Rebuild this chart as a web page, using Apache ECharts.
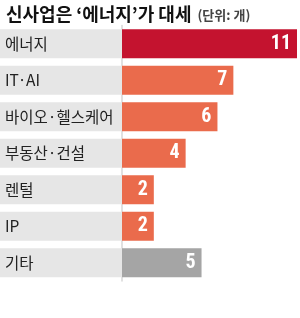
<!DOCTYPE html>
<html><head><meta charset="utf-8">
<script src="https://cdn.jsdelivr.net/npm/echarts@6/dist/echarts.min.js"></script>
<style>html,body{margin:0;padding:0;background:#fff}#c{width:300px;height:318px}</style>
</head><body><div id="c"></div>
<script>
const categories = ['에너지','IT·AI','바이오·헬스케어','부동산·건설','렌털','IP','기타'];
const values = [11, 7, 6, 4, 2, 2, 5];
const barColors = ['#c4132f','#ea6b4c','#ea6b4c','#ea6b4c','#ea6b4c','#ea6b4c','#a5a5a5'];
const titleText = '신사업은 ‘에너지’가 대세';
const unitText = '(단위: 개)';

const chart = echarts.init(document.getElementById('c'), null, {renderer:'canvas'});
const FONT = '"Noto Sans CJK KR", "Noto Sans", sans-serif';
const NUMFONT = '"Liberation Sans Narrow", "Roboto Condensed", "Roboto", sans-serif';
chart.setOption({
  animation: false,
  title: {
    left: 1, top: 0,
    text: '{a|' + titleText + '}{b| ' + unitText + '}',
    textStyle: {
      rich: {
        a: {fontFamily: FONT, fontSize: 18, fontWeight: 'bold', color: '#111', letterSpacing: -0.6},
        b: {fontFamily: FONT, fontSize: 13, color: '#444', padding: [3,0,0,3], letterSpacing: -0.3}
      }
    }
  },
  grid: [
    {left: 0, width: 122, top: 25.5, bottom: 37, containLabel: false},
    {left: 122, right: 3, top: 25.5, bottom: 37, containLabel: false}
  ],
  xAxis: [
    {gridIndex: 0, type: 'value', min: 0, max: 1, show: false},
    {gridIndex: 1, type: 'value', min: 0, max: 11, show: false}
  ],
  yAxis: [
    {gridIndex: 0, type: 'category', data: categories, inverse: true, show: false},
    {gridIndex: 1, type: 'category', data: categories, inverse: true,
     axisTick: {show: false}, axisLabel: {show: false},
     axisLine: {show: true, lineStyle: {color: '#8a8a8a', width: 1.5, opacity: 0.35}}}
  ],
  series: [{
    type: 'bar', xAxisIndex: 0, yAxisIndex: 0,
    data: categories.map(() => 1),
    barWidth: 29,
    itemStyle: {color: '#e6e6e6'},
    label: {
      show: true, position: 'insideLeft', distance: 5, formatter: '{b}',
      color: '#222', fontFamily: FONT, fontSize: 15.5
    }
  }, {
    type: 'bar', xAxisIndex: 1, yAxisIndex: 1,
    data: values.map((v,i) => ({value: v, itemStyle: {color: barColors[i]}})),
    barWidth: 29,
    label: {
      show: true, position: 'insideRight', offset: [-1, 0],
      color: '#fff', fontFamily: NUMFONT, fontSize: 20, fontWeight: 'bold'
    }
  }]
});
</script></body></html>
